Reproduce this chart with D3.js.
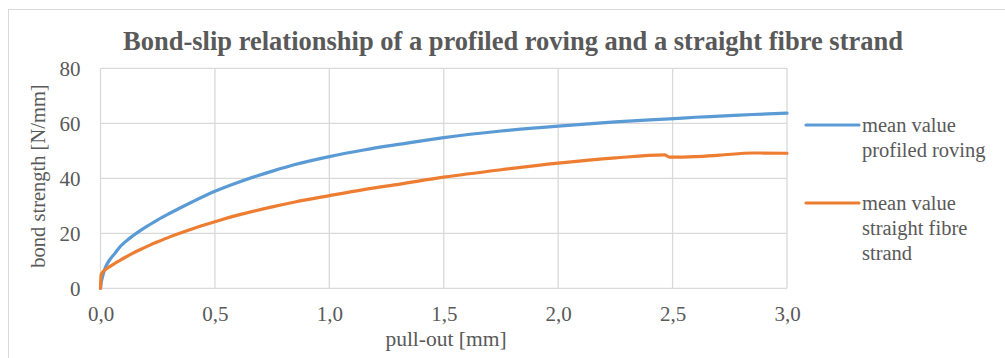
<!DOCTYPE html>
<html>
<head>
<meta charset="utf-8">
<script src="https://cdn.jsdelivr.net/npm/d3@7/dist/d3.min.js"></script>
<style>
  html, body { margin: 0; padding: 0; background: #fff; }
  svg { display: block; }
  text { font-family: "Liberation Serif", "DejaVu Serif", "Noto Serif", serif; fill: #595959; }
</style>
</head>
<body>
<svg id="chart" width="1005" height="358"></svg>
<script>
// ---- data ----
const title = "Bond-slip relationship of a profiled roving and a straight fibre strand";
const xLabel = "pull-out [mm]";
const yLabel = "bond strength [N/mm]";
const xTicks = [0, 0.5, 1.0, 1.5, 2.0, 2.5, 3.0];
const yTicks = [0, 20, 40, 60, 80];
const slip = [0, 0.003, 0.01, 0.02, 0.04, 0.063, 0.08, 0.107, 0.14, 0.172, 0.216, 0.25, 0.303, 0.4, 0.5, 0.6, 0.755, 0.85, 1.0, 1.15, 1.308, 1.5, 1.75, 2.0, 2.25, 2.465, 2.487, 2.6, 2.705, 2.85, 3.0];
const profiledRoving = [0, 2.0, 4.5, 7.3, 10.3, 12.7, 14.6, 16.8, 19.0, 20.9, 23.2, 24.9, 27.3, 31.4, 35.3, 38.5, 42.7, 45.0, 47.9, 50.3, 52.4, 54.8, 57.2, 59.0, 60.5, 61.5, 61.6, 62.2, 62.6, 63.2, 63.7];
const straightStrand = [0, 5.0, 5.9, 6.7, 7.9, 9.1, 9.9, 11.2, 12.7, 14.0, 15.7, 16.9, 18.7, 21.6, 24.2, 26.6, 29.7, 31.4, 33.7, 35.9, 37.9, 40.4, 43.1, 45.5, 47.4, 48.5, 47.7, 47.9, 48.4, 49.2, 49.1];
const seriesNames = [["mean value", "profiled roving"], ["mean value", "straight fibre", "strand"]];
const seriesColors = ["#5B9BD5", "#ED7D31"];

// ---- layout ----
const FONT = '"Liberation Serif", "DejaVu Serif", "Noto Serif", serif';
const svg = d3.select("#chart");
const plot = { left: 100.5, right: 787, top: 68.3, bottom: 288.3 };

svg.append("rect")
  .attr("x", 8.5).attr("y", 9.5).attr("width", 1010).attr("height", 370)
  .attr("fill", "#fff").attr("stroke", "#D9D9D9").attr("stroke-width", 1);

const x = d3.scaleLinear().domain([0, 3]).range([plot.left, plot.right]);
const y = d3.scaleLinear().domain([0, 80]).range([plot.bottom, plot.top]);

// gridlines
const grid = svg.append("g");
grid.selectAll("line.h").data(yTicks).enter().append("line")
  .attr("x1", plot.left).attr("x2", plot.right)
  .attr("y1", d => y(d)).attr("y2", d => y(d))
  .attr("stroke", "#D9D9D9").attr("stroke-width", 1.3);
grid.selectAll("line.v").data(xTicks).enter().append("line")
  .attr("y1", plot.top).attr("y2", plot.bottom)
  .attr("x1", d => x(d)).attr("x2", d => x(d))
  .attr("stroke", "#D9D9D9").attr("stroke-width", 1.3);

// axes labels via d3 axes
const xAxis = d3.axisBottom(x).tickValues(xTicks).tickSize(0).tickPadding(0)
  .tickFormat(d => d3.format(".1f")(d).replace(".", ","));
const gx = svg.append("g").attr("transform", `translate(0,${plot.bottom})`).call(xAxis)
  .attr("font-family", FONT);
gx.select(".domain").remove();
gx.selectAll("text").attr("font-size", 21).attr("dy", null).attr("y", 33)
  .style("font-family", FONT).attr("fill", "#595959");

const yAxis = d3.axisLeft(y).tickValues(yTicks).tickSize(0).tickPadding(20);
const gy = svg.append("g").attr("transform", `translate(${plot.left},0)`).call(yAxis)
  .attr("font-family", FONT);
gy.select(".domain").remove();
gy.selectAll("text").attr("font-size", 21).attr("dy", "0.33em")
  .style("font-family", FONT).attr("fill", "#595959");

// lines
const data = [profiledRoving, straightStrand];
const line = d3.line().x(d => x(d[0])).y(d => y(d[1])).curve(d3.curveMonotoneX);
data.forEach((vals, i) => {
  svg.append("path")
    .datum(slip.map((s, j) => [s, vals[j]]))
    .attr("fill", "none").attr("stroke", seriesColors[i])
    .attr("stroke-width", 3.2).attr("stroke-linejoin", "round").attr("stroke-linecap", "round")
    .attr("d", line);
});

// title
svg.append("text").attr("x", 513).attr("y", 50).attr("text-anchor", "middle")
  .attr("font-size", 26.5).attr("font-weight", "bold").text(title);

// axis titles
svg.append("text").attr("x", 446).attr("y", 346).attr("text-anchor", "middle")
  .attr("font-size", 21.5).text(xLabel);
svg.append("text").attr("transform", "translate(45,176) rotate(-90)").attr("text-anchor", "middle")
  .attr("font-size", 20.5).text(yLabel);

// legend
const legendY = [125, 203];
seriesNames.forEach((lines, i) => {
  const g = svg.append("g");
  g.append("line").attr("x1", 806).attr("x2", 859)
    .attr("y1", legendY[i]).attr("y2", legendY[i])
    .attr("stroke", seriesColors[i]).attr("stroke-width", 3.2).attr("stroke-linecap", "round");
  lines.forEach((t, k) => {
    g.append("text").attr("x", 862).attr("y", legendY[i] + 7 + k * 25)
      .attr("font-size", 20.5).text(t);
  });
});
</script>
</body>
</html>
